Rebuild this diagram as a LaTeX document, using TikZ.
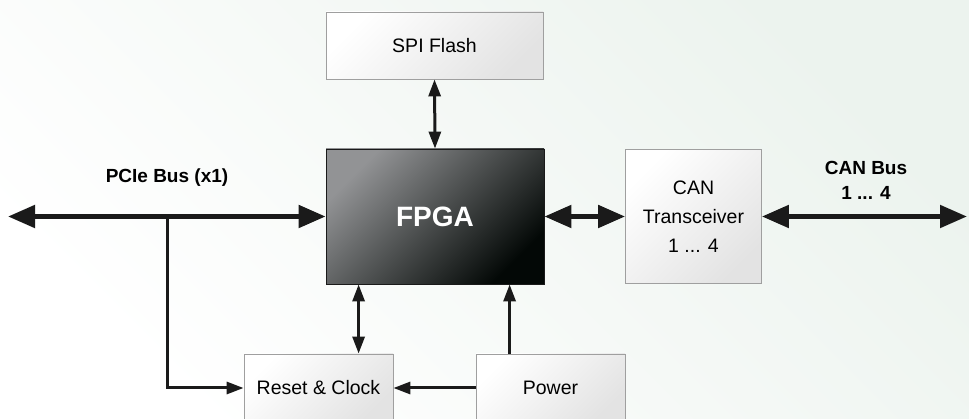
\documentclass[tikz,border=0pt]{standalone}
\usepackage{fontspec}
\setmainfont{Liberation Sans}
\usetikzlibrary{arrows.meta}
\definecolor{bgtint}{HTML}{ECF3EE}
\definecolor{boxgray}{HTML}{E3E3E3}
\definecolor{fpgalight}{HTML}{929395}
\definecolor{fpgadark}{HTML}{030806}
\definecolor{ink}{HTML}{1A1A1A}

\begin{document}
\begin{tikzpicture}[x=1pt, y=-1pt,
	box/.style = {draw=gray!75, line width=0.8pt, left color=white, right color=boxgray, shading angle=45,
		minimum width=149pt, minimum height=68pt, inner sep=0pt, align=center, font=\fontsize{19.5}{29}\selectfont},
	bus/.style = {draw=ink, line width=5pt, {Triangle[length=27pt,width=22pt]}-{Triangle[length=27pt,width=22pt]}},
	link/.style = {draw=ink, line width=3pt, >={Triangle[length=17pt,width=12pt]}},
	label/.style = {align=center, font=\bfseries\fontsize{19}{25}\selectfont}]
	\clip (0,0) rectangle (969,419);
	\shade[left color=white, right color=bgtint, shading angle=135] (0,0) rectangle (969,419);

	\node[box, minimum width=217pt, minimum height=67pt] (spi) at (434.5,45.5) {SPI Flash};
	\node[box, minimum width=218pt, minimum height=135pt, draw=ink, left color=fpgalight, right color=fpgadark, shading angle=45,
		text=white, font=\bfseries\fontsize{28}{30}\selectfont] (fpga) at (435,216.5) {FPGA};
	\node[box, minimum width=136pt, minimum height=134pt] (can) at (693.5,216.5) {CAN\\Transceiver\\1 ... 4};
	\node[box] (reset) at (318.5,388) {Reset \& Clock};
	\node[box] (power) at (550.5,388) {Power};

	\node[label] (pcielabel) at (167,178) {PCIe Bus (x1)};
	\node[label] (canlabel) at (866,180) {CAN Bus\\1 ... 4};

	\coordinate (pcieend) at (8,216.5);
	\coordinate (tap) at (167,216.5);
	\coordinate (canend) at (967,216.5);

	\draw[bus] (pcieend) -- (fpga.west);
	\draw[bus] (fpga.east) -- (can.west);
	\draw[bus] (can.east) -- (canend);

	\draw[link,->] (tap) |- (reset.west);
	\draw[link,<->] (spi.south) -- (fpga.north);
	\draw[link,<->] ([xshift=33pt]fpga.south west) -- ([xshift=33pt]fpga.south west |- reset.north);
	\draw[link,->] ([xshift=34pt]power.north west) -- ([xshift=34pt]power.north west |- fpga.south);
	\draw[link,->] (power.west) -- (reset.east);
\end{tikzpicture}
\end{document}
